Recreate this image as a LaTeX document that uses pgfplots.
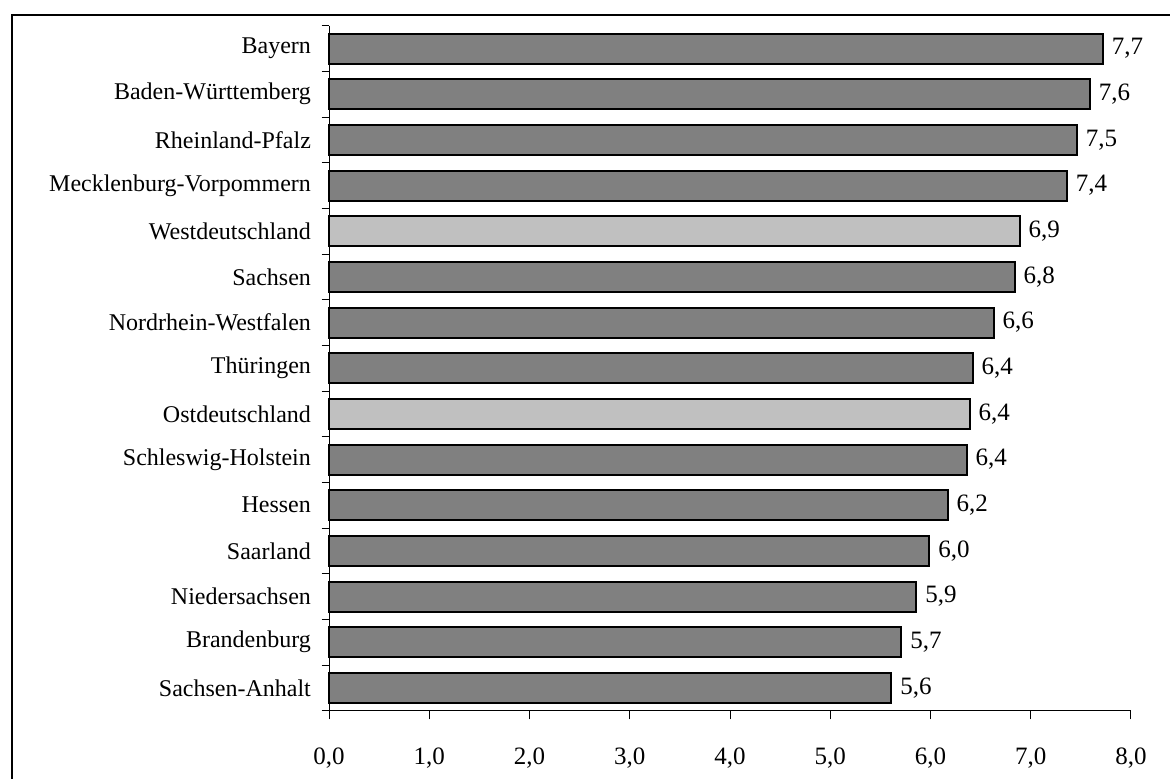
\documentclass[border=0pt]{standalone}
\usepackage{pgfplots}
\pgfplotsset{compat=1.18}
\usepackage{pgfplotstable}
\usepackage{fontspec}
\setmainfont{Liberation Serif}
\pgfplotstableread{
pos value lbl
1 7.72 7,7
2 7.59 7,6
3 7.46 7,5
4 7.36 7,4
6 6.84 6,8
7 6.63 6,6
8 6.42 6,4
10 6.36 6,4
11 6.17 6,2
12 5.99 6,0
13 5.86 5,9
14 5.71 5,7
15 5.61 5,6
}\dark
\pgfplotstableread{
pos value lbl
5 6.89 6,9
9 6.39 6,4
}\light
\definecolor{darkbar}{RGB}{128,128,128}
\definecolor{lightbar}{RGB}{192,192,192}
\begin{document}
\fontsize{12}{14}\selectfont
\begin{tikzpicture}[x=1pt,y=1pt]
\useasboundingbox (0,0) rectangle (585,389);
\draw[line width=1pt] (6,-10) -- (6,381.5) -- (600,381.5);
\begin{axis}[
  at={(164.5pt,33.65pt)}, anchor=south west,
  scale only axis, width=401pt, height=342.5pt,
  xmin=0, xmax=8, ymin=0.5, ymax=15.5,
  y dir=reverse,
  axis x line*=bottom, axis y line*=left,
  axis line style={line width=0.5pt, black},
  tick align=outside,
  xtick={0,1,...,8},
  major tick length=4.35pt,
  minor tick length=3.75pt,
  tick style={black, line width=0.5pt},
  xticklabel={\pgfmathprintnumber[fixed,fixed zerofill,precision=1,use comma,assume math mode=true]{\tick}},
  xticklabel style={font=\fontsize{12.5}{14}\selectfont, yshift=-10pt},
  ytick={1,...,15},
  yticklabels={Bayern,Baden-Württemberg,Rheinland-Pfalz,Mecklenburg-Vorpommern,Westdeutschland,Sachsen,Nordrhein-Westfalen,Thüringen,Ostdeutschland,Schleswig-Holstein,Hessen,Saarland,Niedersachsen,Brandenburg,Sachsen-Anhalt},
  minor ytick={0.5,1.5,...,15.5},
  major y tick style={draw=none},
  yticklabel style={font=\fontsize{12}{14}\selectfont, xshift=-0.5pt},
  xbar, bar width=15pt, bar shift=0pt,
  nodes near coords,
  point meta=explicit symbolic,
  nodes near coords style={font=\fontsize{12.5}{14}\selectfont, anchor=west, black},
  clip=false,
]
\addplot[fill=darkbar, draw=black, line width=1pt] table[x=value, y=pos, meta=lbl] {\dark};
\addplot[fill=lightbar, draw=black, line width=1pt] table[x=value, y=pos, meta=lbl] {\light};
\end{axis}
\end{tikzpicture}
\end{document}
